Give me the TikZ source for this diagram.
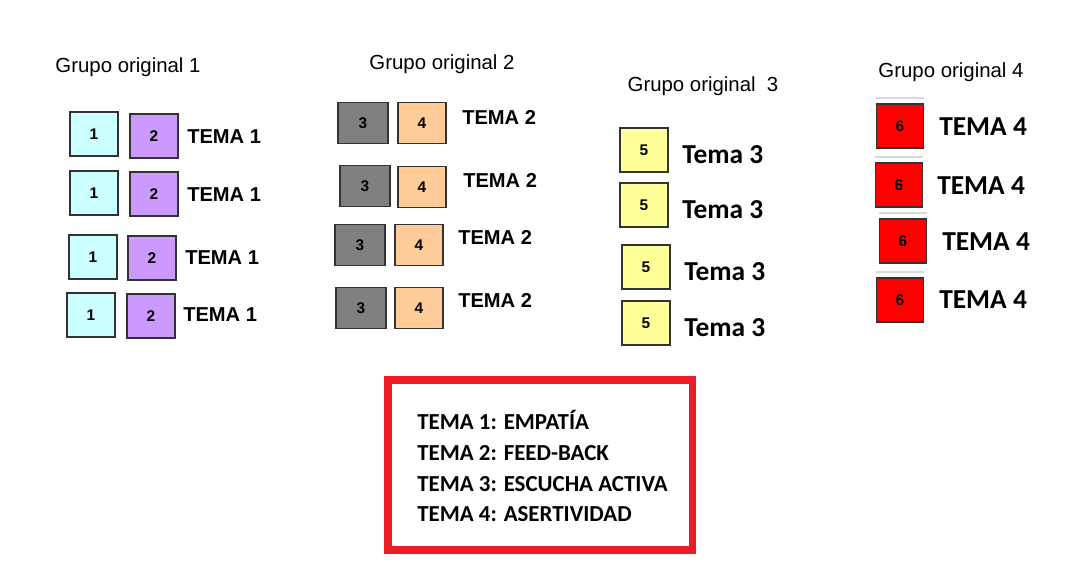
\documentclass[tikz,border=0pt]{standalone}
\usepackage{fontspec}
\setmainfont{Liberation Sans}
\newfontfamily\calibri{Carlito}
\usetikzlibrary{positioning}

\definecolor{cyanbox}{HTML}{CCFFFF}
\definecolor{lilabox}{HTML}{CC99FF}
\definecolor{grisbox}{HTML}{808080}
\definecolor{melocbox}{HTML}{FFCC99}
\definecolor{amarbox}{HTML}{FFFF99}
\definecolor{rojobox}{HTML}{FF0000}
\definecolor{rojomarco}{HTML}{ED1C24}

\begin{document}
\begin{tikzpicture}[
  x=0.25mm, y=-0.25mm,
  titulo/.style={font=\fontsize{14.5}{16}\selectfont, inner sep=0pt},
  ficha/.style={draw=black!80, line width=0.9pt, minimum width=12mm, minimum height=11mm, inner sep=0pt, font=\fontsize{11}{13}\selectfont\bfseries},
  f1/.style={ficha, fill=cyanbox},
  f2/.style={ficha, fill=lilabox},
  f3/.style={ficha, fill=grisbox, minimum width=12.5mm, minimum height=10.3mm},
  f4/.style={ficha, fill=melocbox, minimum height=10.3mm},
  f5/.style={ficha, fill=amarbox},
  f6/.style={ficha, fill=rojobox, minimum width=11.8mm},
  tema/.style={anchor=west, inner sep=0pt, font=\fontsize{14.3}{16}\selectfont\bfseries},
  temacal/.style={anchor=west, inner sep=0pt, font=\calibri\fontsize{19.5}{22}\selectfont\bfseries},
  raya/.style={draw=black!15, line width=1pt},
]
\useasboundingbox (0,0) rectangle (1076,567);

% grupo original 1
\node[titulo] (g1) at (128,67) {Grupo original 1};
\node[f1] (a11) at (94,134) {1};
\node[f2] (a12) at (154,136) {2};
\node[tema] (t1a) at (187,137) {TEMA 1};
\node[f1] (a21) at (94,193) {1};
\node[f2] (a22) at (154,194) {2};
\node[tema] (t1b) at (187,195) {TEMA 1};
\node[f1] (a31) at (93,257) {1};
\node[f2] (a32) at (152,258) {2};
\node[tema] (t1c) at (185,258) {TEMA 1};
\node[f1] (a41) at (91,315) {1};
\node[f2] (a42) at (151,316) {2};
\node[tema] (t1d) at (183,315) {TEMA 1};

% grupo original 2
\node[titulo] (g2) at (442,64) {Grupo original 2};
\node[f3] (b11) at (363,123) {3};
\node[f4] (b12) at (422,123) {4};
\node[tema] (t2a) at (462,117) {TEMA 2};
\node[f3] (b21) at (365,186) {3};
\node[f4] (b22) at (422,187) {4};
\node[tema] (t2b) at (463,180) {TEMA 2};
\node[f3] (b31) at (360,245) {3};
\node[f4] (b32) at (419,245) {4};
\node[tema] (t2c) at (458,237) {TEMA 2};
\node[f3] (b41) at (361,308) {3};
\node[f4] (b42) at (419,308) {4};
\node[tema] (t2d) at (458,300) {TEMA 2};

% grupo original 3
\node[titulo] (g3) at (703,86) {Grupo original\ \ 3};
\node[f5] (c1) at (644,150) {5};
\node[temacal] (t3a) at (682,155) {Tema 3};
\node[f5] (c2) at (644,205) {5};
\node[temacal] (t3b) at (682,210) {Tema 3};
\node[f5] (c3) at (646,267) {5};
\node[temacal] (t3c) at (684,272) {Tema 3};
\node[f5] (c4) at (646,323) {5};
\node[temacal] (t3d) at (684,328) {Tema 3};

% grupo original 4
\node[titulo] (g4) at (951,72) {Grupo original 4};
\node[f6] (d1) at (900,126) {6};
\node[temacal] (t4a) at (939,127) {TEMA 4};
\node[f6] (d2) at (899,185) {6};
\node[temacal] (t4b) at (937,186) {TEMA 4};
\node[f6] (d3) at (903,241) {6};
\node[temacal] (t4c) at (942,242) {TEMA 4};
\node[f6] (d4) at (900,300) {6};
\node[temacal] (t4d) at (939,300) {TEMA 4};
% rayas grises sobre las fichas rojas
\draw[raya] ([yshift=1.3mm]d1.north west) -- ([yshift=1.3mm]d1.north east);
\draw[raya] ([yshift=1.3mm]d2.north west) -- ([yshift=1.3mm]d2.north east);
\draw[raya] ([yshift=1.3mm]d3.north west) -- ([yshift=1.3mm]d3.north east);
\draw[raya] ([yshift=1.3mm]d4.north west) -- ([yshift=1.3mm]d4.north east);

% leyenda de temas
\node[draw=rojomarco, line width=5pt, minimum width=76mm, minimum height=42.5mm] (marco) at (540,465) {};
\node[anchor=west, align=left, inner sep=0pt, font=\calibri\fontsize{16.3}{22}\selectfont\bfseries] (leyenda) at (417,466)
  {TEMA 1: EMPATÍA\\TEMA 2: FEED-BACK\\TEMA 3: ESCUCHA ACTIVA\\TEMA 4: ASERTIVIDAD};
\end{tikzpicture}
\end{document}
